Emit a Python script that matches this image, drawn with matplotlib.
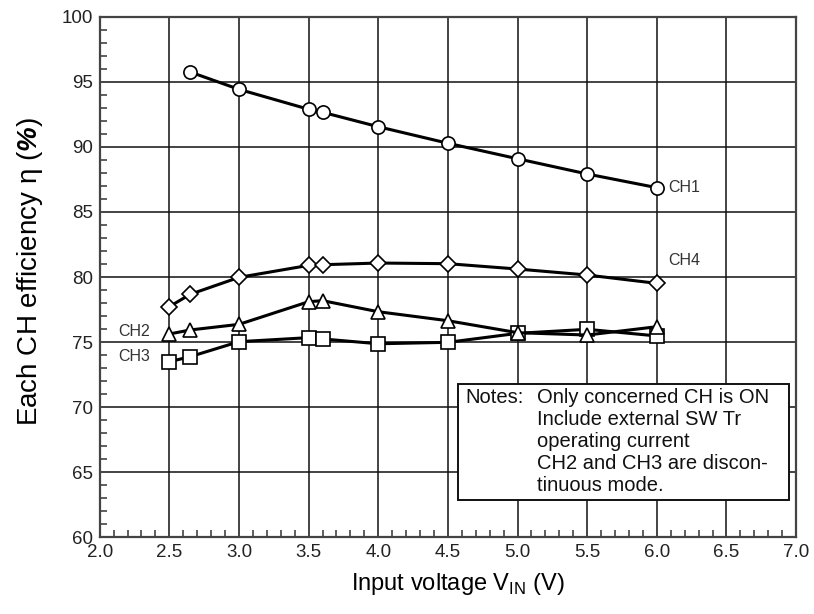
import matplotlib
matplotlib.use("Agg")
import matplotlib.pyplot as plt
from matplotlib.ticker import MultipleLocator, FormatStrFormatter
from matplotlib.patches import Rectangle

plt.rcParams['font.family'] = ['Liberation Sans', 'DejaVu Sans']
plt.rcParams['mathtext.fontset'] = 'custom'
plt.rcParams['mathtext.rm'] = 'Liberation Sans'
plt.rcParams['mathtext.bf'] = 'Liberation Sans:bold:italic'

vin = [2.5, 2.65, 3.0, 3.5, 3.6, 4.0, 4.5, 5.0, 5.5, 6.0]
ch1_x = [2.65, 3.0, 3.5, 3.6, 4.0, 4.5, 5.0, 5.5, 6.0]
ch1 = [95.75, 94.42, 92.89, 92.66, 91.55, 90.28, 89.09, 87.92, 86.87]
ch4 = [77.73, 78.68, 79.98, 80.9, 80.95, 81.08, 81.03, 80.62, 80.16, 79.52]
ch2 = [75.63, 75.94, 76.37, 78.11, 78.19, 77.34, 76.65, 75.73, 75.55, 76.19]
ch3 = [73.5, 73.89, 75.04, 75.35, 75.25, 74.88, 74.99, 75.68, 75.99, 75.48]

notes = ["Only concerned CH is ON", "Include external SW Tr",
         "operating current", "CH2 and CH3 are discon-", "tinuous mode."]

fig = plt.figure(figsize=(8.14, 6.14), dpi=100)
ax = fig.add_axes([0.1225, 0.1246, 0.978 - 0.1225, 0.9728 - 0.1246])

ax.set_xlim(2.0, 7.0)
ax.set_ylim(60, 100)
ax.xaxis.set_major_locator(MultipleLocator(0.5))
ax.xaxis.set_minor_locator(MultipleLocator(0.1))
ax.yaxis.set_major_locator(MultipleLocator(5))
ax.yaxis.set_minor_locator(MultipleLocator(1))
ax.xaxis.set_major_formatter(FormatStrFormatter('%.1f'))
ax.grid(True, which='major', color='#111111', linewidth=1.1)
ax.tick_params(which='major', length=0, labelsize=13.5, colors='#222222', pad=5)
ax.tick_params(which='minor', direction='in', length=5, width=1.1, color='#333333')
ax.tick_params(axis='y', which='both', right=False)
ax.tick_params(axis='x', which='both', top=False)
for s in ax.spines.values():
    s.set_color('#444444')
    s.set_linewidth(1.6)

mk = dict(color='black', linewidth=2.2, markersize=9.5, markerfacecolor='white',
          markeredgecolor='black', markeredgewidth=1.2, zorder=3)
ax.plot(vin, ch3, marker='s', **mk)
ax.plot(vin, ch2, marker='^', **mk)
ax.plot(vin, ch4, marker='D', **{**mk, 'markersize': 8.5})
ax.plot(ch1_x, ch1, marker='o', **mk)

lab = dict(fontsize=11.5, color='#333333', va='center', ha='left')
ax.text(6.08, 86.9, "CH1", **lab)
ax.text(6.08, 81.3, "CH4", **lab)
ax.text(2.13, 75.8, "CH2", **lab)
ax.text(2.13, 73.9, "CH3", **lab)

ax.set_xlabel(r"Input voltage V$_{\mathrm{IN}}$ (V)", fontsize=17)
ax.xaxis.set_label_coords(0.515, -0.065)
ax.set_ylabel(r"Each CH efficiency η ($\mathbf{\%}$)", fontsize=20)
ax.yaxis.set_label_coords(-0.078, 0.51)

# notes box
bx0, by0 = (458 - 99.7) / 139.3 + 2.0, 100 - (500 - 16.7) / 13.02
bx1, by1 = (789 - 99.7) / 139.3 + 2.0, 100 - (384 - 16.7) / 13.02
ax.add_patch(Rectangle((bx0, by0), bx1 - bx0, by1 - by0, facecolor='white',
                       edgecolor='#111111', linewidth=1.4, zorder=4))
line_y = [398, 420, 442, 464, 486]
tx0 = (465 - 99.7) / 139.3 + 2.0
tx1 = (537 - 99.7) / 139.3 + 2.0
ax.text(tx0, 100 - (line_y[0] - 16.7) / 13.02, "Notes:", fontsize=14.5,
        va='center', ha='left', zorder=5, color='#111111')
for yy, t in zip(line_y, notes):
    ax.text(tx1, 100 - (yy - 16.7) / 13.02, t, fontsize=14.5, va='center',
            ha='left', zorder=5, color='#111111')

fig.savefig("out.png", dpi=100)
